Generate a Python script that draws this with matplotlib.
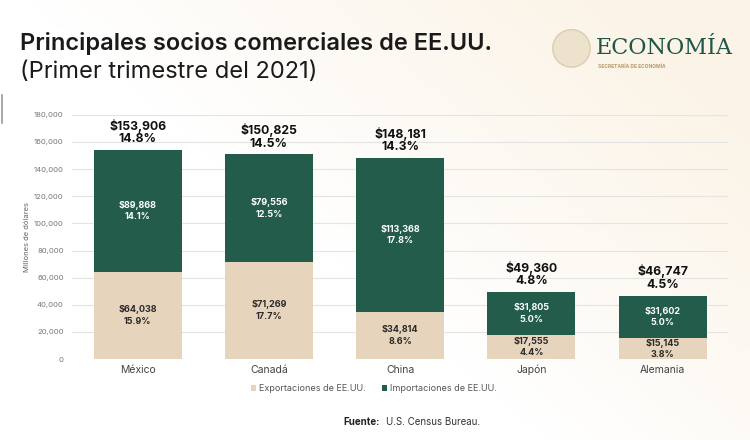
import matplotlib.pyplot as plt
import numpy as np
from matplotlib.patches import Ellipse

paises = ['México', 'Canadá', 'China', 'Japón', 'Alemania']
exportaciones = [64038, 71269, 34814, 17555, 15145]
importaciones = [89868, 79556, 113368, 31805, 31602]
totales = [153906, 150825, 148181, 49360, 46747]
pct_exp = [15.9, 17.7, 8.6, 4.4, 3.8]
pct_imp = [14.1, 12.5, 17.8, 5.0, 5.0]
pct_tot = [14.8, 14.5, 14.3, 4.8, 4.5]

verde = '#235c4b'
beige = '#e6d4bd'

plt.rcParams['font.family'] = ['Inter', 'DejaVu Sans']

fig = plt.figure(figsize=(7.5, 4.4), dpi=100)

# soft cream background towards the upper right
bg = fig.add_axes([0, 0, 1, 1], zorder=-10)
xx, yy = np.meshgrid(np.linspace(0, 1, 200), np.linspace(0, 1, 120))
w = np.clip((xx - 0.45) * 1.3 + (yy - 0.4) * 0.9, 0, 1)
img = np.ones((120, 200, 3))
cream = np.array([0.985, 0.955, 0.905])
img = img * (1 - w[..., None]) + cream * w[..., None]
bg.imshow(img, origin='lower', extent=[0, 1, 0, 1], aspect='auto')
bg.plot([0.002, 0.002], [0.72, 0.785], color='#999999', linewidth=1.2)
bg.set_xlim(0, 1)
bg.set_ylim(0, 1)
bg.axis('off')

ax = fig.add_axes([0.096, 0.184, 0.875, 0.555])
ax.set_facecolor('none')
x = np.arange(len(paises))
ax.bar(x, exportaciones, width=0.67, color=beige, label='Exportaciones de EE.UU.', zorder=2)
ax.bar(x, importaciones, width=0.67, bottom=exportaciones, color=verde,
       label='Importaciones de EE.UU.', zorder=2)

for i in range(len(paises)):
    ax.text(x[i], exportaciones[i] / 2, f'${exportaciones[i]:,}\n{pct_exp[i]:.1f}%',
            ha='center', va='center', fontsize=6.5, fontweight='bold', color='#2a2a2a',
            linespacing=1.35)
    ax.text(x[i], exportaciones[i] + importaciones[i] / 2,
            f'${importaciones[i]:,}\n{pct_imp[i]:.1f}%',
            ha='center', va='center', fontsize=6.5, fontweight='bold', color='white',
            linespacing=1.35)
    ax.text(x[i], totales[i] + 3500, f'${totales[i]:,}\n{pct_tot[i]:.1f}%',
            ha='center', va='bottom', fontsize=8.8, fontweight='bold', color='#111111',
            linespacing=1.05)

ax.set_xlim(-0.5, 4.5)
ax.set_ylim(0, 180000)
ax.set_yticks(range(0, 180001, 20000))
ax.yaxis.set_major_formatter(plt.FuncFormatter(lambda v, p: f'{int(v):,}'))
ax.set_xticks(x)
ax.set_xticklabels(paises)
ax.tick_params(axis='y', length=0, labelsize=5.5, labelcolor='#777777', pad=6)
ax.tick_params(axis='x', length=0, labelsize=7.5, labelcolor='#444444', pad=4)
ax.grid(axis='y', color='#e4e4e4', linewidth=0.8, zorder=0)
for s in ax.spines.values():
    s.set_visible(False)
ax.set_ylabel('Millones de dólares', fontsize=5.5, color='#666666', labelpad=3)

leg = ax.legend(loc='upper center', bbox_to_anchor=(0.46, -0.07), ncol=2, frameon=False,
                fontsize=6.5, handlelength=0.6, handleheight=0.6, handletextpad=0.3,
                columnspacing=1.8, labelcolor='#555555')

fig.text(0.027, 0.886, 'Principales socios comerciales de EE.UU.', fontsize=17,
         fontweight='semibold', color='#1a1a1a', va='baseline')
fig.text(0.027, 0.823, '(Primer trimestre del 2021)', fontsize=17, color='#1a1a1a',
         va='baseline')

fig.text(0.458, 0.035, 'Fuente:', fontsize=7, fontweight='bold', color='#222222')
fig.text(0.515, 0.035, 'U.S. Census Bureau.', fontsize=7, color='#333333')

# logo
fig.patches.append(Ellipse((0.762, 0.89), 0.05, 0.05 * 750 / 440, transform=fig.transFigure,
                           facecolor='#ebdfc7', edgecolor='#d9c7a6', linewidth=1, alpha=0.85))
fig.text(0.795, 0.89, 'ECONOMÍA', fontsize=16, family='DejaVu Serif', color='#1f5648',
         va='center')
fig.text(0.797, 0.848, 'SECRETARÍA DE ECONOMÍA', fontsize=3.5, color='#b79a6a',
         fontweight='bold', va='center')

fig.savefig('out.png', dpi=100)
